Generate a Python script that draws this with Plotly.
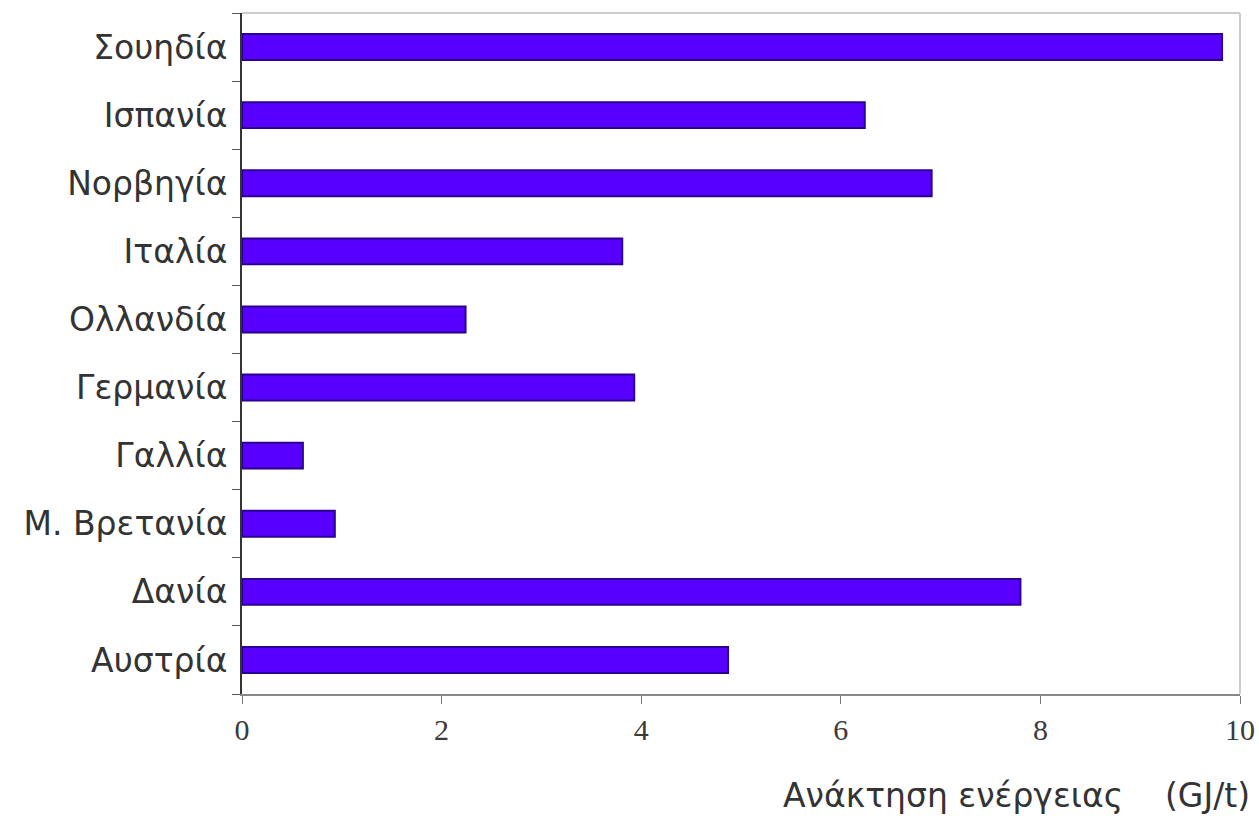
import plotly.graph_objects as go

countries = ["Σουηδία", "Ισπανία", "Νορβηγία", "Ιταλία", "Ολλανδία",
             "Γερμανία", "Γαλλία", "Μ. Βρετανία", "Δανία", "Αυστρία"]
values = [9.82, 6.24, 6.91, 3.81, 2.24, 3.93, 0.61, 0.93, 7.80, 4.87]
x_ticks = [0, 2, 4, 6, 8, 10]
x_title = "Ανάκτηση ενέργειας    (GJ/t)"

fig = go.Figure()
fig.add_trace(go.Bar(
    y=countries, x=values, orientation="h", width=0.38,
    marker=dict(color="#5800ff", line=dict(color="#2a0090", width=2)),
))

fig.update_layout(
    width=1259, height=819,
    margin=dict(l=242, r=19, t=13, b=125),
    paper_bgcolor="white", plot_bgcolor="white",
    showlegend=False,
    xaxis=dict(range=[0, 10], tickvals=x_ticks, ticks="outside", ticklen=8,
               automargin=False,
               tickcolor="#777", showgrid=False, zeroline=False,
               showline=True, linecolor="#888", linewidth=2, mirror=False,
               tickfont=dict(family="Liberation Serif", size=30, color="#3a3a3a")),
    yaxis=dict(categoryorder="array", categoryarray=countries[::-1],
               tickson="boundaries", ticks="outside", ticklen=8,
               ticklabelstandoff=6, automargin=False,
               tickcolor="#555", showgrid=False, zeroline=False,
               showline=True, linecolor="#333", linewidth=2,
               tickfont=dict(family="DejaVu Sans", size=33, color="#333")),
    shapes=[
        dict(type="line", xref="paper", yref="paper", x0=0, x1=1, y0=1, y1=1,
             line=dict(color="#ccc", width=2)),
        dict(type="line", xref="paper", yref="paper", x0=1, x1=1, y0=0, y1=1,
             line=dict(color="#ccc", width=2)),
    ],
    annotations=[dict(text=x_title, xref="paper", yref="paper", x=1, y=0,
                      xanchor="right", yanchor="middle", xshift=12, yshift=-101,
                      showarrow=False,
                      font=dict(family="DejaVu Sans", size=33, color="#333"))],
)

fig.write_html("out.html", config={"displayModeBar": False},
               post_script="document.body.style.margin='0px';document.body.style.overflow='hidden';")
